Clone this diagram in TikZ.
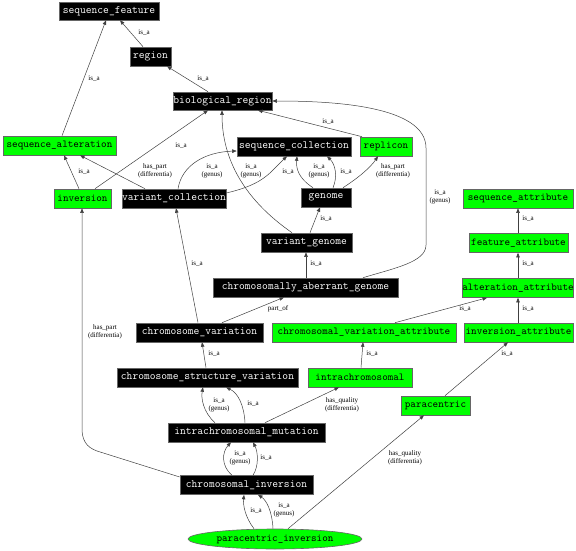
\documentclass[tikz,border=0pt]{standalone}
\usepackage{fontspec}
\setmainfont{Liberation Serif}
\usetikzlibrary{arrows.meta,shapes.geometric}
\definecolor{gr}{HTML}{00FF00}
\definecolor{bd}{HTML}{666666}
\begin{document}
\begin{tikzpicture}[x=1pt,y=-1pt,
 base/.style={draw=bd, line width=0.6pt, inner sep=0pt, minimum height=19pt},
 blk/.style={base, fill=black, text=white, font=\ttfamily\fontsize{11.2}{12}\selectfont},
 grn/.style={base, fill=gr, text=black, font=\ttfamily\fontsize{10.6}{12}\selectfont},
 lbl/.style={font=\fontsize{7}{8}\selectfont, align=center, inner sep=0pt},
 conn/.style={draw=black!75, line width=0.5pt, -{Triangle[length=4.5pt,width=3.5pt]}}
]
\useasboundingbox (0,0) rectangle (576,551);
% nodes
\node[blk, minimum width=100pt, minimum height=18pt] (sf) at (109,11) {sequence\_feature};
\node[blk, minimum width=41pt] (region) at (150.5,56.5) {region};
\node[blk, minimum width=99pt, minimum height=18pt] (br) at (222.5,101) {biological\_region};
\node[grn, minimum width=113pt] (sa) at (59.5,145.5) {sequence\_alteration};
\node[grn, minimum width=57pt] (inv) at (82.5,198.5) {inversion};
\node[blk, minimum width=104pt] (vc) at (174,198.5) {variant\_collection};
\node[blk, minimum width=114pt] (sc) at (294,146.5) {sequence\_collection};
\node[grn, minimum width=52pt] (rep) at (386,146.5) {replicon};
\node[blk, minimum width=50pt] (genome) at (326,197.5) {genome};
\node[blk, minimum width=91pt] (vg) at (306.5,242.5) {variant\_genome};
\node[blk, minimum width=185pt] (cab) at (305.5,287.5) {chromosomally\_aberrant\_genome};
\node[blk, minimum width=127pt] (cv) at (199.5,332.5) {chromosome\_variation};
\node[grn, minimum width=184pt] (cva) at (364,332.5) {chromosomal\_variation\_attribute};
\node[blk, minimum width=181pt] (csv) at (207.5,377.5) {chromosome\_structure\_variation};
\node[grn, minimum width=104pt] (intra) at (360,377.5) {intrachromosomal};
\node[blk, minimum width=157pt] (icm) at (246.5,432.5) {intrachromosomal\_mutation};
\node[grn, minimum width=69pt] (para) at (435.5,405.5) {paracentric};
\node[blk, minimum width=133pt] (ci) at (246.5,485) {chromosomal\_inversion};
\node[grn, ellipse, minimum width=174pt, minimum height=20pt] (pi) at (275,539) {paracentric\_inversion};
\node[grn, minimum width=110pt] (seqattr) at (518,198.5) {sequence\_attribute};
\node[grn, minimum width=99pt] (featattr) at (518.5,243) {feature\_attribute};
\node[grn, minimum width=110pt] (altattr) at (518,288) {alteration\_attribute};
\node[grn, minimum width=109pt] (invattr) at (518.5,332.5) {inversion\_attribute};
% connectors
\draw[conn] (143,0 |- region.north) -- (120,0 |- sf.south);
\draw[conn] (208,0 |- br.north) -- (167,0 |- region.south);
\draw[conn] (62,0 |- sa.north) -- (106,0 |- sf.south);
\draw[conn] (79,0 |- inv.north) -- (64,0 |- sa.south);
\draw[conn] (95,0 |- inv.north) -- (208,0 |- br.south);
\draw[conn] (145,0 |- vc.north) -- (80,0 |- sa.south);
\draw[conn] (178,0 |- vc.north) .. controls (182,165) and (205,152) .. (sc.west |- 0,151);
\draw[conn] (vc.east |- 0,193) .. controls (265,184) and (270,172) .. (287,0 |- sc.south);
\draw[conn] (313,0 |- genome.north) .. controls (298,178) and (296,168) .. (297,0 |- sc.south);
\draw[conn] (333,0 |- genome.north) .. controls (338,176) and (335,164) .. (327,0 |- sc.south);
\draw[conn] (343,0 |- genome.north) .. controls (358,178) and (370,168) .. (378,0 |- rep.south);
\draw[conn] (362,0 |- rep.north) -- (258,0 |- br.south);
\draw[conn] (310,0 |- vg.north) -- (320,0 |- genome.south);
\draw[conn] (292,0 |- vg.north) .. controls (245,200) and (222,160) .. (222,0 |- br.south);
\draw[conn] (306,0 |- cab.north) -- (306,0 |- vg.south);
\draw[conn] (363,0 |- cab.north) .. controls (395,268) and (426,262) .. (426,245) -- (426,148) .. controls (426,105) and (330,101) .. (br.east);
\draw[conn] (222,0 |- cv.north) -- (284,0 |- cab.south);
\draw[conn] (198,0 |- cv.north) -- (176,0 |- vc.south);
\draw[conn] (206,0 |- csv.north) -- (202,0 |- cv.south);
\draw[conn] (361,0 |- intra.north) -- (363,0 |- cva.south);
\draw[conn] (395,0 |- cva.north) -- (487,0 |- altattr.south);
\draw[conn] (518,0 |- invattr.north) -- (518,0 |- altattr.south);
\draw[conn] (518,0 |- altattr.north) -- (518,0 |- featattr.south);
\draw[conn] (518,0 |- featattr.north) -- (518,0 |- seqattr.south);
\draw[conn] (445,0 |- para.north) -- (508,0 |- invattr.south);
\draw[conn] (215,0 |- icm.north) .. controls (203,412) and (201,398) .. (203,0 |- csv.south);
\draw[conn] (245,0 |- icm.north) .. controls (244,405) and (238,393) .. (226,0 |- csv.south);
\draw[conn] (265,0 |- icm.north) -- (339,0 |- intra.south);
\draw[conn] (232,0 |- ci.north) .. controls (221,466) and (222,452) .. (231,0 |- icm.south);
\draw[conn] (253,0 |- ci.north) .. controls (259,466) and (258,452) .. (253,0 |- icm.south);
\draw[conn] (ci.west |- 0,477) -- (97,451) .. controls (86,447) and (82,440) .. (82,428) -- (82,0 |- inv.south);
\draw[conn] (254,0 |- pi.north) .. controls (245,517) and (243,505) .. (244,0 |- ci.south);
\draw[conn] (273,0 |- pi.north) .. controls (272,510) and (266,500) .. (258,0 |- ci.south);
\draw[conn] (288,0 |- pi.north) -- (424,0 |- para.south);
% labels
\node[lbl] (l1) at (144,33) {is\_a};
\node[lbl] (l2) at (203,79) {is\_a};
\node[lbl] (l3) at (94,79) {is\_a};
\node[lbl] (l4) at (84,172) {is\_a};
\node[lbl] (l5) at (181,146) {is\_a};
\node[lbl] (l6) at (155,171) {has\_part\\(differentia)};
\node[lbl] (l7) at (212,171) {is\_a\\(genus)};
\node[lbl] (l8) at (251,171) {is\_a\\(genus)};
\node[lbl] (l9) at (288,172) {is\_a};
\node[lbl] (l10) at (319,171) {is\_a\\(genus)};
\node[lbl] (l11) at (346,172) {is\_a};
\node[lbl] (l12) at (393,171) {has\_part\\(differentia)};
\node[lbl] (l13) at (328,122) {is\_a};
\node[lbl] (l14) at (326,219) {is\_a};
\node[lbl] (l15) at (440,197) {is\_a\\(genus)};
\node[lbl] (l16) at (316,264) {is\_a};
\node[lbl] (l17) at (278,309) {part\_of};
\node[lbl] (l18) at (197,264) {is\_a};
\node[lbl] (l19) at (214,354) {is\_a};
\node[lbl] (l20) at (372,354) {is\_a};
\node[lbl] (l21) at (465,309) {is\_a};
\node[lbl] (l22) at (528,309) {is\_a};
\node[lbl] (l23) at (528,264) {is\_a};
\node[lbl] (l24) at (528,219) {is\_a};
\node[lbl] (l25) at (507,354) {is\_a};
\node[lbl] (l26) at (219,405) {is\_a\\(genus)};
\node[lbl] (l27) at (253,404) {is\_a};
\node[lbl] (l28) at (342,405) {has\_quality\\(differentia)};
\node[lbl] (l29) at (240,458) {is\_a\\(genus)};
\node[lbl] (l30) at (266,458) {is\_a};
\node[lbl] (l31) at (105,332) {has\_part\\(differentia)};
\node[lbl] (l32) at (256,511) {is\_a};
\node[lbl] (l33) at (284,510) {is\_a\\(genus)};
\node[lbl] (l34) at (405,458) {has\_quality\\(differentia)};
\end{tikzpicture}
\end{document}
